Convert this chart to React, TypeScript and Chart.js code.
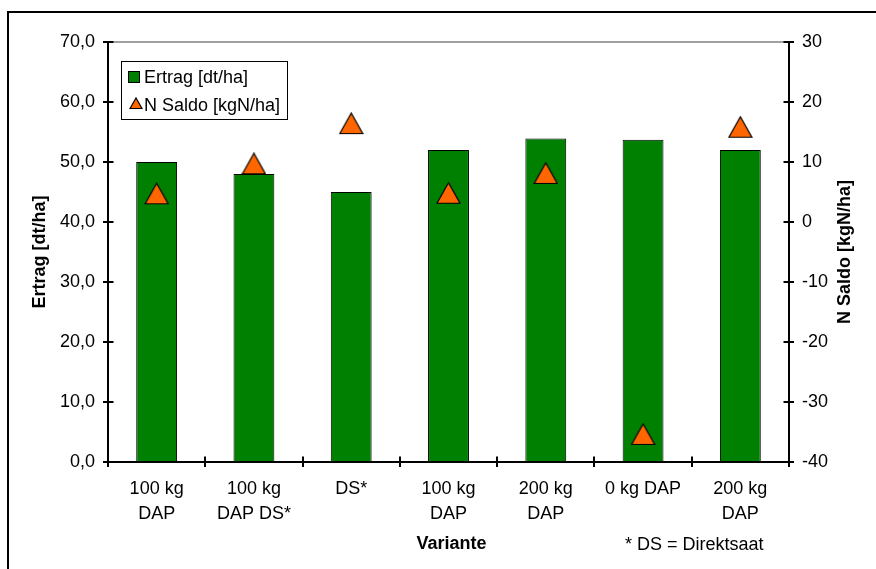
import React, { useEffect, useRef } from 'react';
import { Chart, registerables } from 'chart.js';

Chart.register(...registerables);

// ---- data ----
const categories: (string | string[])[] = [
  ['100 kg', 'DAP'],
  ['100 kg', 'DAP DS*'],
  'DS*',
  ['100 kg', 'DAP'],
  ['200 kg', 'DAP'],
  '0 kg DAP',
  ['200 kg', 'DAP'],
];
const ertrag = [50.0, 48.0, 45.0, 52.0, 53.9, 53.7, 52.0];
const nSaldo = [4.7, 9.7, 16.4, 4.8, 8.1, -35.4, 15.8];

const ertragLabel = 'Ertrag [dt/ha]';
const nSaldoLabel = 'N Saldo [kgN/ha]';
const leftAxisTitle = 'Ertrag [dt/ha]';
const rightAxisTitle = 'N Saldo [kgN/ha]';
const xAxisTitle = 'Variante';
const footnote = '* DS = Direktsaat';

const leftMin = 0, leftMax = 70, leftStep = 10;
const rightMin = -40, rightMax = 30, rightStep = 10;

const FONT = "'Liberation Sans', Arial, Helvetica, sans-serif";
const GREEN = '#008000';
const ORANGE = '#FF6600';

function makeTriangle(w: number, h: number): HTMLCanvasElement {
  const c = document.createElement('canvas');
  c.width = w + 2;
  c.height = h + 2;
  const g = c.getContext('2d')!;
  g.beginPath();
  g.moveTo(1, h + 0.5);
  g.lineTo(1 + w / 2, 1);
  g.lineTo(1 + w, h + 0.5);
  g.closePath();
  g.fillStyle = ORANGE;
  g.fill();
  g.strokeStyle = '#000';
  g.lineWidth = 1.2;
  g.lineJoin = 'miter';
  g.stroke();
  return c;
}

const decorPlugin = {
  id: 'decor',
  afterDraw(chart: any) {
    const ctx: CanvasRenderingContext2D = chart.ctx;
    const a = chart.chartArea;
    ctx.save();

    // outer frame
    ctx.strokeStyle = '#000';
    ctx.lineWidth = 2;
    ctx.beginPath();
    ctx.moveTo(8, 600);
    ctx.lineTo(8, 12);
    ctx.lineTo(900, 12);
    ctx.stroke();

    // top plot border (gray)
    ctx.strokeStyle = '#808080';
    ctx.lineWidth = 1.5;
    ctx.beginPath();
    ctx.moveTo(a.left, a.top);
    ctx.lineTo(a.right, a.top);
    ctx.stroke();

    // inner halves of crossing tick marks
    ctx.strokeStyle = '#000';
    ctx.lineWidth = 2;
    const yS = chart.scales.y;
    const y1S = chart.scales.y1;
    const xS = chart.scales.x;
    ctx.beginPath();
    yS.ticks.forEach((t: any) => {
      const py = Math.round(yS.getPixelForValue(t.value));
      ctx.moveTo(a.left, py);
      ctx.lineTo(a.left + 5.5, py);
    });
    y1S.ticks.forEach((t: any) => {
      const py = Math.round(y1S.getPixelForValue(t.value));
      ctx.moveTo(a.right - 5.5, py);
      ctx.lineTo(a.right, py);
    });
    const n = categories.length;
    const cw = (xS.right - xS.left) / n;
    for (let i = 0; i <= n; i++) {
      const px = Math.round(xS.left + i * cw);
      ctx.moveTo(px, a.bottom - 5.5);
      ctx.lineTo(px, a.bottom);
    }
    ctx.stroke();

    // legend
    const ds = chart.data.datasets;
    const lx = a.left + 13.5;
    const ly = a.top + 19.5;
    ctx.fillStyle = '#fff';
    ctx.fillRect(lx, ly, 166, 58);
    ctx.strokeStyle = '#000';
    ctx.lineWidth = 1;
    ctx.strokeRect(lx, ly, 166, 58);
    // entry 1: bar square
    ctx.fillStyle = GREEN;
    ctx.fillRect(lx + 7, ly + 10, 11, 11);
    ctx.strokeRect(lx + 7, ly + 10, 11, 11);
    ctx.fillStyle = '#000';
    ctx.font = `18px ${FONT}`;
    ctx.textAlign = 'left';
    ctx.textBaseline = 'middle';
    ctx.fillText(ds[0].label, lx + 22.5, ly + 16.5);
    // entry 2: triangle
    const tri = (chart as any)._legendTri as HTMLCanvasElement;
    if (tri) ctx.drawImage(tri, lx + 7.5, ly + 42 - tri.height / 2);
    ctx.fillStyle = '#000';
    ctx.fillText(ds[1].label, lx + 22.5, ly + 44.5);

    // axis titles
    ctx.font = `bold 18px ${FONT}`;
    ctx.textAlign = 'center';
    ctx.textBaseline = 'middle';
    const cy = (a.top + a.bottom) / 2;
    ctx.save();
    ctx.translate(40, cy);
    ctx.rotate(-Math.PI / 2);
    ctx.fillText(leftAxisTitle, 0, 0);
    ctx.restore();
    ctx.save();
    ctx.translate(845, cy);
    ctx.rotate(-Math.PI / 2);
    ctx.fillText(rightAxisTitle, 0, 0);
    ctx.restore();
    ctx.fillText(xAxisTitle, (a.left + a.right) / 2 + 3, 544);

    ctx.font = `18px ${FONT}`;
    ctx.textAlign = 'left';
    ctx.fillText(footnote, 625, 545);

    ctx.restore();
  },
};

export default function App() {
  const ref = useRef<HTMLCanvasElement | null>(null);

  useEffect(() => {
    const canvas = ref.current;
    if (!canvas) return;
    const tri = makeTriangle(23, 21);
    const legendTri = makeTriangle(12, 11);

    const chart = new Chart(canvas, {
      type: 'bar',
      data: {
        labels: categories,
        datasets: [
          {
            type: 'bar',
            label: ertragLabel,
            data: ertrag,
            backgroundColor: GREEN,
            borderColor: '#000',
            borderWidth: 1,
            barPercentage: 0.42,
            categoryPercentage: 1,
            yAxisID: 'y',
            order: 1,
          } as any,
          {
            type: 'line',
            label: nSaldoLabel,
            data: nSaldo,
            showLine: false,
            pointStyle: tri,
            pointRadius: 12,
            backgroundColor: ORANGE,
            borderColor: '#000',
            yAxisID: 'y1',
            order: 0,
          } as any,
        ],
      },
      options: {
        responsive: false,
        animation: false,
        events: [],
        layout: { padding: { top: 42, left: 0, right: 0, bottom: 0 } },
        plugins: {
          legend: { display: false },
          tooltip: { enabled: false },
          title: { display: false },
        },
        scales: {
          x: {
            offset: true,
            grid: {
              offset: true,
              drawOnChartArea: false,
              drawTicks: true,
              tickLength: 5,
              color: '#000',
              lineWidth: 2,
            },
            border: { display: true, color: '#000', width: 2 },
            ticks: {
              color: '#000',
              font: { family: FONT, size: 18, lineHeight: 1.38 },
              padding: 10,
              maxRotation: 0,
              autoSkip: false,
            },
            afterFit(scale: any) {
              scale.height = 107;
            },
          },
          y: {
            position: 'left',
            min: leftMin,
            max: leftMax,
            grid: {
              drawOnChartArea: false,
              drawTicks: true,
              tickLength: 5,
              color: '#000',
              lineWidth: 2,
            },
            border: { display: true, color: '#000', width: 2 },
            ticks: {
              stepSize: leftStep,
              color: '#000',
              font: { family: FONT, size: 18 },
              padding: 8,
              callback: (v: any) => Number(v).toFixed(1).replace('.', ','),
            },
            afterFit(scale: any) {
              scale.width = 108;
            },
          },
          y1: {
            position: 'right',
            min: rightMin,
            max: rightMax,
            grid: {
              drawOnChartArea: false,
              drawTicks: true,
              tickLength: 5,
              color: '#000',
              lineWidth: 2,
            },
            border: { display: true, color: '#000', width: 2 },
            ticks: {
              stepSize: rightStep,
              color: '#000',
              font: { family: FONT, size: 18 },
              padding: 8,
              callback: (v: any) => String(v),
            },
            afterFit(scale: any) {
              scale.width = 87;
            },
          },
        },
      } as any,
      plugins: [decorPlugin],
    });
    (chart as any)._legendTri = legendTri;
    chart.draw();

    return () => chart.destroy();
  }, []);

  return (
    <div style={{ position: 'absolute', left: 0, top: 0, width: 876, height: 569, background: '#fff' }}>
      <canvas ref={ref} width={876} height={569} style={{ display: 'block', width: 876, height: 569 }} />
    </div>
  );
}
